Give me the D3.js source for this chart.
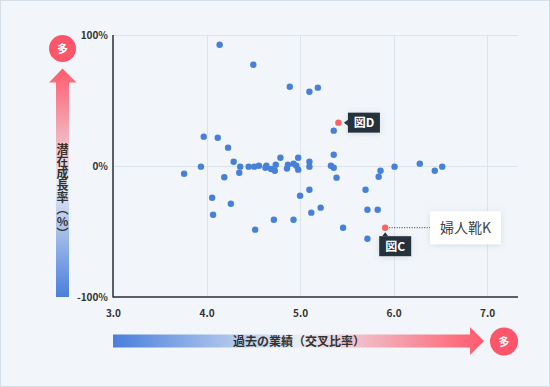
<!DOCTYPE html>
<html><head><meta charset="utf-8">
<script src="https://cdn.jsdelivr.net/npm/d3@7"></script>
<style>
html,body{margin:0;padding:0;background:#f2f6fa;}
svg{display:block;font-family:"Noto Sans CJK JP","Noto Sans",sans-serif;}
</style></head><body>
<svg id="c" width="550" height="387"></svg>
<script>
const xTicks = [3.0, 4.0, 5.0, 6.0, 7.0];
const yTicks = [-100, 0, 100];
const yTickLabels = ["-100%", "0%", "100%"];
const xVals = [4.14,4.50,4.89,5.10,5.19,3.97,4.12,4.23,4.29,3.94,3.76,4.19,4.36,4.35,4.45,4.51,4.56,4.63,4.64,4.69,4.73,4.74,4.79,4.86,4.87,4.93,4.96,4.98,4.98,5.10,5.10,5.33,5.36,5.36,5.36,5.39,5.86,5.84,6.01,6.28,6.44,6.52,4.06,4.07,4.26,4.52,4.72,4.93,5.00,5.10,5.12,5.22,5.46,5.70,5.72,5.83,5.72];
const yVals = [92.6,77.3,60.5,56.7,59.8,22.4,21.6,14.0,3.3,-0.5,-5.9,-8.6,-0.5,-5.1,-0.5,-0.5,0.2,-1.3,0.2,-2.3,-3.6,1.0,6.3,-2.0,1.0,1.8,0.2,-2.8,6.3,3.3,-0.5,0.2,-1.3,8.6,27.0,-8.9,-3.6,-8.2,-0.5,1.8,-3.6,-0.5,-24.2,-37.2,-28.8,-48.6,-41.0,-41.0,-22.7,-18.1,-35.6,-31.8,-47.1,-18.1,-33.4,-33.4,-55.5];
const hiNames = ["図D", "図C"];
const hiX = [5.41, 5.91];
const hiY = [33.1, -47.1];
const calloutText = "婦人靴K";
const xTitle = "過去の業績（交叉比率）";
const yTitle = "潜在成長率（%）";
const moreLabel = "多";

const svg = d3.select("#c");
const L = 113, R = 518, T = 35, B = 297;
const x = d3.scaleLinear().domain([3, 7.33]).range([L, R]);
const y = d3.scaleLinear().domain([-100, 100]).range([B, T]);

const defs = svg.append("defs");
const gh = defs.append("linearGradient").attr("id","gh").attr("x1","0").attr("x2","1").attr("y1","0").attr("y2","0");
gh.append("stop").attr("offset","0").attr("stop-color","#4a7fdc");
gh.append("stop").attr("offset","0.5").attr("stop-color","#e9eef4");
gh.append("stop").attr("offset","1").attr("stop-color","#ff5a6c");
const gv = defs.append("linearGradient").attr("id","gv").attr("x1","0").attr("x2","0").attr("y1","1").attr("y2","0");
gv.append("stop").attr("offset","0").attr("stop-color","#4a7fdc");
gv.append("stop").attr("offset","0.5").attr("stop-color","#e9eef4");
gv.append("stop").attr("offset","1").attr("stop-color","#ff5a6c");
const sh = defs.append("filter").attr("id","sh").attr("x","-30%").attr("y","-50%").attr("width","160%").attr("height","200%");
sh.append("feDropShadow").attr("dx",0).attr("dy",1).attr("stdDeviation",3).attr("flood-color","#8090a0").attr("flood-opacity",0.25);
const sh2 = defs.append("filter").attr("id","sh2").attr("x","-30%").attr("y","-50%").attr("width","160%").attr("height","200%");
sh2.append("feDropShadow").attr("dx",0).attr("dy",1).attr("stdDeviation",3).attr("flood-color","#607080").attr("flood-opacity",0.2);

// frame
svg.append("rect").attr("x",0.5).attr("y",0.5).attr("width",549).attr("height",386)
  .attr("fill","#f2f6fa").attr("stroke","#d5dde6");

// grid
const grid = svg.append("g").attr("stroke","#dde3ea").attr("stroke-width",1);
xTicks.filter(d => d > 3).forEach(d => grid.append("line").attr("x1",Math.round(x(d))+0.5).attr("x2",Math.round(x(d))+0.5).attr("y1",T).attr("y2",B));
yTicks.filter(d => d > -100).forEach(d => grid.append("line").attr("x1",L).attr("x2",R).attr("y1",Math.round(y(d))+0.5).attr("y2",Math.round(y(d))+0.5));

// axes labels via d3 axes
const ax = svg.append("g").attr("transform",`translate(0,${B})`)
  .call(d3.axisBottom(x).tickValues(xTicks).tickFormat(d3.format(".1f")).tickSize(0).tickPadding(13));
ax.select(".domain").remove();
ax.selectAll("text").attr("font-size",10).attr("font-weight","bold").attr("fill","#333").attr("font-family","Noto Sans CJK JP");
const ay = svg.append("g").attr("transform",`translate(${L},0)`)
  .call(d3.axisLeft(y).tickValues(yTicks).tickFormat((d,i) => yTickLabels[i]).tickSize(0).tickPadding(5));
ay.select(".domain").remove();
ay.selectAll("text").attr("font-size",10).attr("font-weight","bold").attr("fill","#333").attr("font-family","Noto Sans CJK JP");

// axis lines
svg.append("line").attr("x1",L).attr("x2",L).attr("y1",T).attr("y2",B+0.5).attr("stroke","#2a2d33").attr("stroke-width",1.5);
svg.append("line").attr("x1",L).attr("x2",R).attr("y1",B).attr("y2",B).attr("stroke","#2a2d33").attr("stroke-width",1.5);

// points
const pts = xVals.map((v,i) => ({x:v, y:yVals[i]}));
svg.append("g").selectAll("circle").data(pts).join("circle")
  .attr("cx", d => x(d.x)).attr("cy", d => y(d.y)).attr("r", 3.2).attr("fill","#4680d8");

// highlighted
const hi = hiX.map((v,i) => ({x:v, y:hiY[i], name:hiNames[i]}));
svg.append("g").selectAll("circle").data(hi).join("circle")
  .attr("cx", d => x(d.x)).attr("cy", d => y(d.y)).attr("r", 3.2).attr("fill","#fb6262");

// 図D label (to the right)
{
  const d = hi[0], px = x(d.x), py = y(d.y);
  const bx = px + 9.5, by = py - 10;
  svg.append("path").attr("d",`M${bx-4},${py} L${bx},${py-3} L${bx},${py+3} Z`).attr("fill","#26303b");
  svg.append("rect").attr("x",bx).attr("y",by).attr("width",32).attr("height",20).attr("fill","#26303b").attr("filter","url(#sh2)");
  svg.append("text").attr("x",bx+16).attr("y",py+4.5).attr("text-anchor","middle").attr("font-size",12).attr("font-weight","bold").attr("fill","#fff").text(d.name);
}
// 図C label (below)
{
  const d = hi[1], px = x(d.x), py = y(d.y);
  const bx = px - 6, by = py + 8.5;
  svg.append("path").attr("d",`M${px},${by-4} L${px-3},${by} L${px+3},${by} Z`).attr("fill","#26303b");
  svg.append("rect").attr("x",bx).attr("y",by).attr("width",32).attr("height",20).attr("fill","#26303b").attr("filter","url(#sh2)");
  svg.append("text").attr("x",bx+16).attr("y",by+14.5).attr("text-anchor","middle").attr("font-size",12).attr("font-weight","bold").attr("fill","#fff").text(d.name);
  // callout
  svg.append("line").attr("x1",px+4).attr("x2",430).attr("y1",py).attr("y2",py)
    .attr("stroke","#333").attr("stroke-width",1).attr("stroke-dasharray","1,1.5");
  svg.append("rect").attr("x",430).attr("y",py-16.5).attr("width",71).attr("height",33).attr("fill","#fff").attr("filter","url(#sh)");
  svg.append("text").attr("x",465.5).attr("y",py+5).attr("text-anchor","middle").attr("font-size",14).attr("fill","#444").text(calloutText);
}

// horizontal arrow
svg.append("path").attr("d","M113,334.5 L470,334.5 L470,327 L484,341 L470,355 L470,347.5 L113,347.5 Z").attr("fill","url(#gh)");
svg.append("text").attr("x",299).attr("y",345.5).attr("text-anchor","middle").attr("font-size",12).attr("font-weight","bold").attr("fill","#333").text(xTitle);
svg.append("circle").attr("cx",504).attr("cy",341.5).attr("r",14).attr("fill","#fd5569");
svg.append("text").attr("x",504).attr("y",345.5).attr("text-anchor","middle").attr("font-size",11).attr("font-weight","bold").attr("fill","#fff").text(moreLabel);

// vertical arrow
svg.append("path").attr("d","M56,297 L56,82.5 L49,82.5 L62.5,68.5 L76.5,82.5 L69,82.5 L69,297 Z").attr("fill","url(#gv)");
svg.append("circle").attr("cx",62.5).attr("cy",48.5).attr("r",13.5).attr("fill","#fd5569");
svg.append("text").attr("x",62.5).attr("y",52.5).attr("text-anchor","middle").attr("font-size",11).attr("font-weight","bold").attr("fill","#fff").text(moreLabel);
svg.append("text").attr("x",62.5).attr("y",143).attr("font-size",12).attr("font-weight","bold").attr("fill","#333")
  .style("writing-mode","vertical-rl").style("text-orientation","upright").style("glyph-orientation-vertical","0")
  .text(yTitle);
</script>
</body></html>
